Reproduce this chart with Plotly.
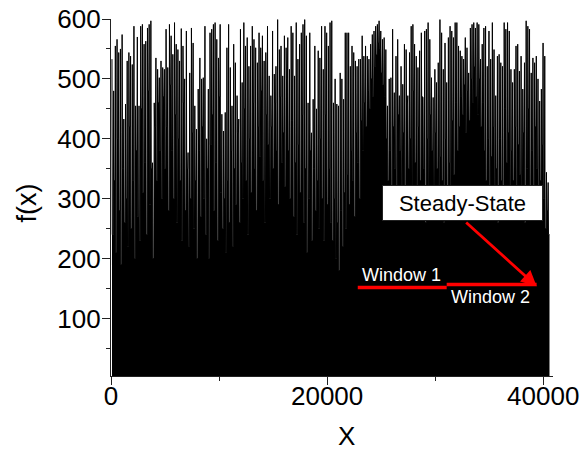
import numpy as np
import plotly.graph_objects as go

# ---------------- data ----------------
# spike maxima, left to right
peaks = [
    533, 480, 555, 566, 544, 550, 574, 433, 458, 530, 544, 538, 524, 588, 455, 570, 455, 588, 591, 558,
    563, 585, 591, 597, 360, 460, 535, 516, 502, 530, 519, 516, 583, 519, 591, 572, 541, 594, 558, 549,
    530, 584, 555, 500, 580, 377, 510, 585, 560, 455, 416, 483, 535, 500, 502, 588, 400, 483, 577, 583,
    591, 594, 566, 535, 591,
    441, 413, 444, 552, 591, 519, 455, 558, 527, 472, 433, 583, 494, 594, 555, 569, 521, 555, 588, 566,
    552, 527, 577, 552, 572, 530, 544, 588, 505, 472, 580, 508, 521, 599, 549, 555, 505, 572, 552, 569,
    516, 588, 577, 505, 594, 533, 558, 577, 591, 599, 572, 460, 577, 410, 466, 555, 450, 547, 535, 588,
    516, 588, 577, 555, 594,
    597, 460, 500, 458, 455, 510, 500, 466, 577, 577, 577, 521, 555, 544, 530, 521, 533, 533, 572, 538,
    555, 538, 533, 558, 574, 580, 588, 591, 597, 580, 566, 569, 549, 455, 500, 502, 583, 477, 538, 566,
    472, 521, 491, 558, 549, 472, 544, 588, 591, 558, 538, 519, 547, 577, 469, 580, 583, 594, 566, 502,
    469, 516, 494, 527, 599,
    577, 516, 560, 494, 569, 588, 580, 569, 594, 594, 555, 547, 538, 533, 569, 552, 510, 585, 591, 594,
    585, 594, 591, 533, 558, 585, 588, 521, 580, 533, 594, 549, 472, 538, 541, 527, 521, 594, 583, 594,
    580, 516, 494, 516, 555, 558, 513, 538, 483, 527, 597, 588, 583, 510, 535, 527, 538, 500, 463, 483,
    560, 538, 344, 327,
]

# depth of the white gap that follows each spike
mids = [
    240, 330, 210, 400, 280, 190, 350, 260, 300, 220, 420, 250, 330, 200, 380, 270, 230, 450, 310, 360,
    240, 480, 290, 350, 200, 420, 330, 460, 380, 300, 470, 350, 420, 280, 490, 380, 300, 440, 260, 400,
    330, 230, 460, 280, 350, 220, 300, 410, 250, 330, 200, 380, 270, 420, 300, 240, 350, 200, 390, 440,
    280, 360, 230, 470, 310,
    250, 300, 210, 330, 260, 380, 220, 350, 290, 410, 260, 360, 300, 450, 330, 240, 400, 310, 460, 350,
    280, 420, 370, 480, 330, 260, 440, 390, 300, 420, 350, 460, 380, 290, 470, 360, 410, 320, 500, 380,
    300, 430, 270, 360, 240, 390, 310, 440, 260, 350, 210, 300, 380, 230, 350, 280, 330, 250, 400, 300,
    230, 440, 290, 350, 260,
    230, 300, 200, 260, 180, 280, 220, 310, 250, 340, 290, 380, 330, 270, 410, 360, 300, 430, 380, 460,
    420, 480, 450, 500, 470, 520, 540, 560, 550, 510, 490, 470, 400, 330, 380, 300, 420, 350, 280, 440,
    380, 320, 410, 290, 460, 350, 400, 310, 480, 360, 290, 420, 330, 470, 350, 260, 400, 300, 440, 380,
    290, 410, 350, 300, 370,
    330, 260, 400, 300, 360, 280, 430, 340, 460, 380, 420, 470, 440, 490, 410, 480, 430, 500, 460, 520,
    470, 440, 500, 420, 460, 380, 330, 400, 290, 370, 420, 310, 350, 260, 400, 330, 290, 450, 360, 410,
    300, 380, 330, 420, 270, 390, 340, 300, 410, 260, 350, 450, 320, 380, 290, 420, 350, 270, 330, 390,
    300, 250, 280, 240,
]

X_START, X_END = 90, 40450          # first / last spike index
x_ticks = [0, 20000, 40000]
y_ticks = [100, 200, 300, 400, 500, 600]

# annotation geometry (data units)
window1 = dict(x0=22835, x1=31063, y=151.8)
window2 = dict(x0=31063, x1=39384, y=156.8)
arrow_tail = (32728, 262.5)
arrow_head = (39384, 154)
label_box = (32497, 292.0)
label_w1 = (26857, 172.3)
label_w2 = (35085, 135.6)

# ---------------- build series ----------------
n = len(peaks)
xs_spike = np.linspace(X_START, X_END, n)
step = xs_spike[1] - xs_spike[0]
xx, yy = [], []
for xi, p, m in zip(xs_spike, peaks, mids):
    xx.extend([xi, xi + 0.2 * step, xi + 0.8 * step])
    yy.extend([p, m, m])

FONT = "Liberation Sans, Arial, sans-serif"

fig = go.Figure()
fig.add_trace(go.Scatter(x=xx, y=yy, mode="lines", fill="tozeroy",
                         fillcolor="black",
                         line=dict(color="black", width=1.0),
                         hoverinfo="skip", showlegend=False))

axis_common = dict(showline=True, linecolor="#222", linewidth=1.3,
                   ticks="outside", ticklen=8, tickwidth=1.3, tickcolor="#222",
                   showgrid=False, zeroline=False, mirror=False, automargin=False,
                   tickfont=dict(family=FONT, size=26, color="black"))

fig.update_layout(
    width=582, height=453,
    margin=dict(l=111, r=29, t=19, b=77, autoexpand=False),
    paper_bgcolor="white", plot_bgcolor="white",
    xaxis=dict(range=[0, 40900], tickvals=x_ticks, ticktext=[str(v) for v in x_ticks],
               minor=dict(ticks="outside", ticklen=4, tickwidth=1.3, tickcolor="#222",
                          dtick=10000, tick0=0, showgrid=False),
               ticklabelstandoff=-11, **axis_common),
    yaxis=dict(range=[4, 600], tickvals=y_ticks, ticktext=[str(v) for v in y_ticks],
               minor=dict(ticks="outside", ticklen=4, tickwidth=1.3, tickcolor="#222",
                          dtick=50, tick0=0, showgrid=False),
               ticklabelstandoff=-4, **axis_common),
    showlegend=False,
)

# red window lines
for w in (window1, window2):
    fig.add_shape(type="line", xref="x", yref="y", x0=w["x0"], x1=w["x1"],
                  y0=w["y"], y1=w["y"], line=dict(color="#ff0000", width=3.5),
                  layer="above")

# arrow from label to end of window 2
fig.add_annotation(x=arrow_head[0], y=arrow_head[1], ax=arrow_tail[0], ay=arrow_tail[1],
                   xref="x", yref="y", axref="x", ayref="y", text="",
                   showarrow=True, arrowhead=2, arrowsize=1.1, arrowwidth=2.8,
                   arrowcolor="#ff0000")

# Steady-State box
fig.add_annotation(x=label_box[0], y=label_box[1], xref="x", yref="y",
                   text="Steady-State", showarrow=False,
                   font=dict(family=FONT, size=22, color="black"),
                   bgcolor="white", bordercolor="#222", borderwidth=1,
                   width=157, height=32, align="center", valign="middle")

fig.add_annotation(x=label_w1[0], y=label_w1[1], xref="x", yref="y",
                   text="Window 1", showarrow=False,
                   font=dict(family=FONT, size=18, color="white"))
fig.add_annotation(x=label_w2[0], y=label_w2[1], xref="x", yref="y",
                   text="Window 2", showarrow=False,
                   font=dict(family=FONT, size=18, color="white"))

# axis titles
fig.add_annotation(x=0.5317, y=-0.168, xref="paper", yref="paper", text="X",
                   showarrow=False, xanchor="center", yanchor="middle",
                   font=dict(family=FONT, size=26, color="black"))
fig.add_annotation(x=-0.191, y=0.4846, xref="paper", yref="paper", text="f(x)",
                   showarrow=False, xanchor="center", yanchor="middle", textangle=-90,
                   font=dict(family=FONT, size=27, color="black"))

fig.write_html("out.html")
